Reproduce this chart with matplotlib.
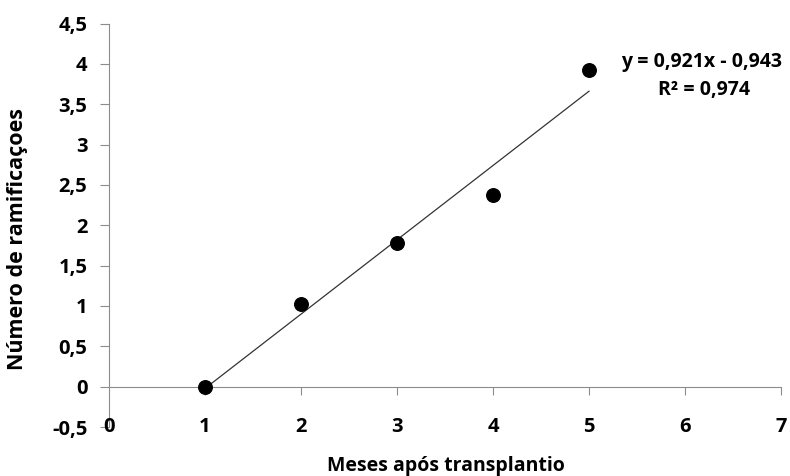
import matplotlib
matplotlib.use("Agg")
import matplotlib.pyplot as plt
import numpy as np

# monthly means of branch count after transplanting
meses = [1, 2, 3, 4, 5]
ramificacoes = [0.0, 1.02, 1.78, 2.37, 3.93]

# linear trend reported on the chart
slope = 0.921
intercept = -0.943
r2 = 0.974

x_ticks = [0, 1, 2, 3, 4, 5, 6, 7]
y_ticks = [-0.5, 0, 0.5, 1, 1.5, 2, 2.5, 3, 3.5, 4, 4.5]

FONT = "Open Sans"
AXIS_GRAY = "#8c8c8c"


def fmt(v):
    s = f"{v:g}"
    return s.replace(".", ",")


fig = plt.figure(figsize=(7.9, 4.76), dpi=100)
ax = fig.add_axes([109 / 790, 1 - 427 / 476, (781 - 109) / 790, (427 - 23.6) / 476])

ax.scatter(meses, ramificacoes, s=95, color="black", zorder=3, clip_on=False)

xt = np.array([meses[0], meses[-1]])
ax.plot(xt, slope * xt + intercept, color="#333333", lw=0.9, zorder=2)

ax.set_xlim(0, 7)
ax.set_ylim(-0.5, 4.5)

for side in ("top", "right"):
    ax.spines[side].set_visible(False)
ax.spines["bottom"].set_position(("data", 0))
ax.spines["bottom"].set_color(AXIS_GRAY)
ax.spines["left"].set_color(AXIS_GRAY)

ax.set_yticks(y_ticks)
ax.set_yticklabels([fmt(v) for v in y_ticks], fontfamily=FONT,
                   fontweight="bold", fontsize=14.5)
ax.tick_params(axis="y", direction="out", length=6.5, color=AXIS_GRAY, pad=9)

# x labels sit at the bottom of the plot, ticks stay on the zero line
ax.set_xticks(x_ticks[1:])
ax.tick_params(axis="x", direction="out", length=6, color=AXIS_GRAY,
               labelbottom=False)
for v in x_ticks:
    ax.text(v, -0.5, fmt(v), ha="center", va="center", fontfamily=FONT,
            fontweight="bold", fontsize=14.5)

fig.text(18 / 790, 1 - 239 / 476, "Número de ramificaçoes", rotation=90,
         ha="center", va="center", fontfamily=FONT, fontweight="bold",
         fontsize=15.5)
fig.text(446 / 790, 1 - 466 / 476, "Meses após transplantio", ha="center",
         va="center", fontfamily=FONT, fontweight="bold", fontsize=14)

fig.text(782 / 790, 1 - 62 / 476, f"y = {fmt(slope)}x - {fmt(-intercept)}",
         ha="right", va="center", fontfamily=FONT, fontweight="bold",
         fontsize=14)
fig.text(704 / 790, 1 - 90 / 476, f"R² = {fmt(r2)}", ha="center",
         va="center", fontfamily=FONT, fontweight="bold", fontsize=14)

fig.savefig("out.png", dpi=100)
